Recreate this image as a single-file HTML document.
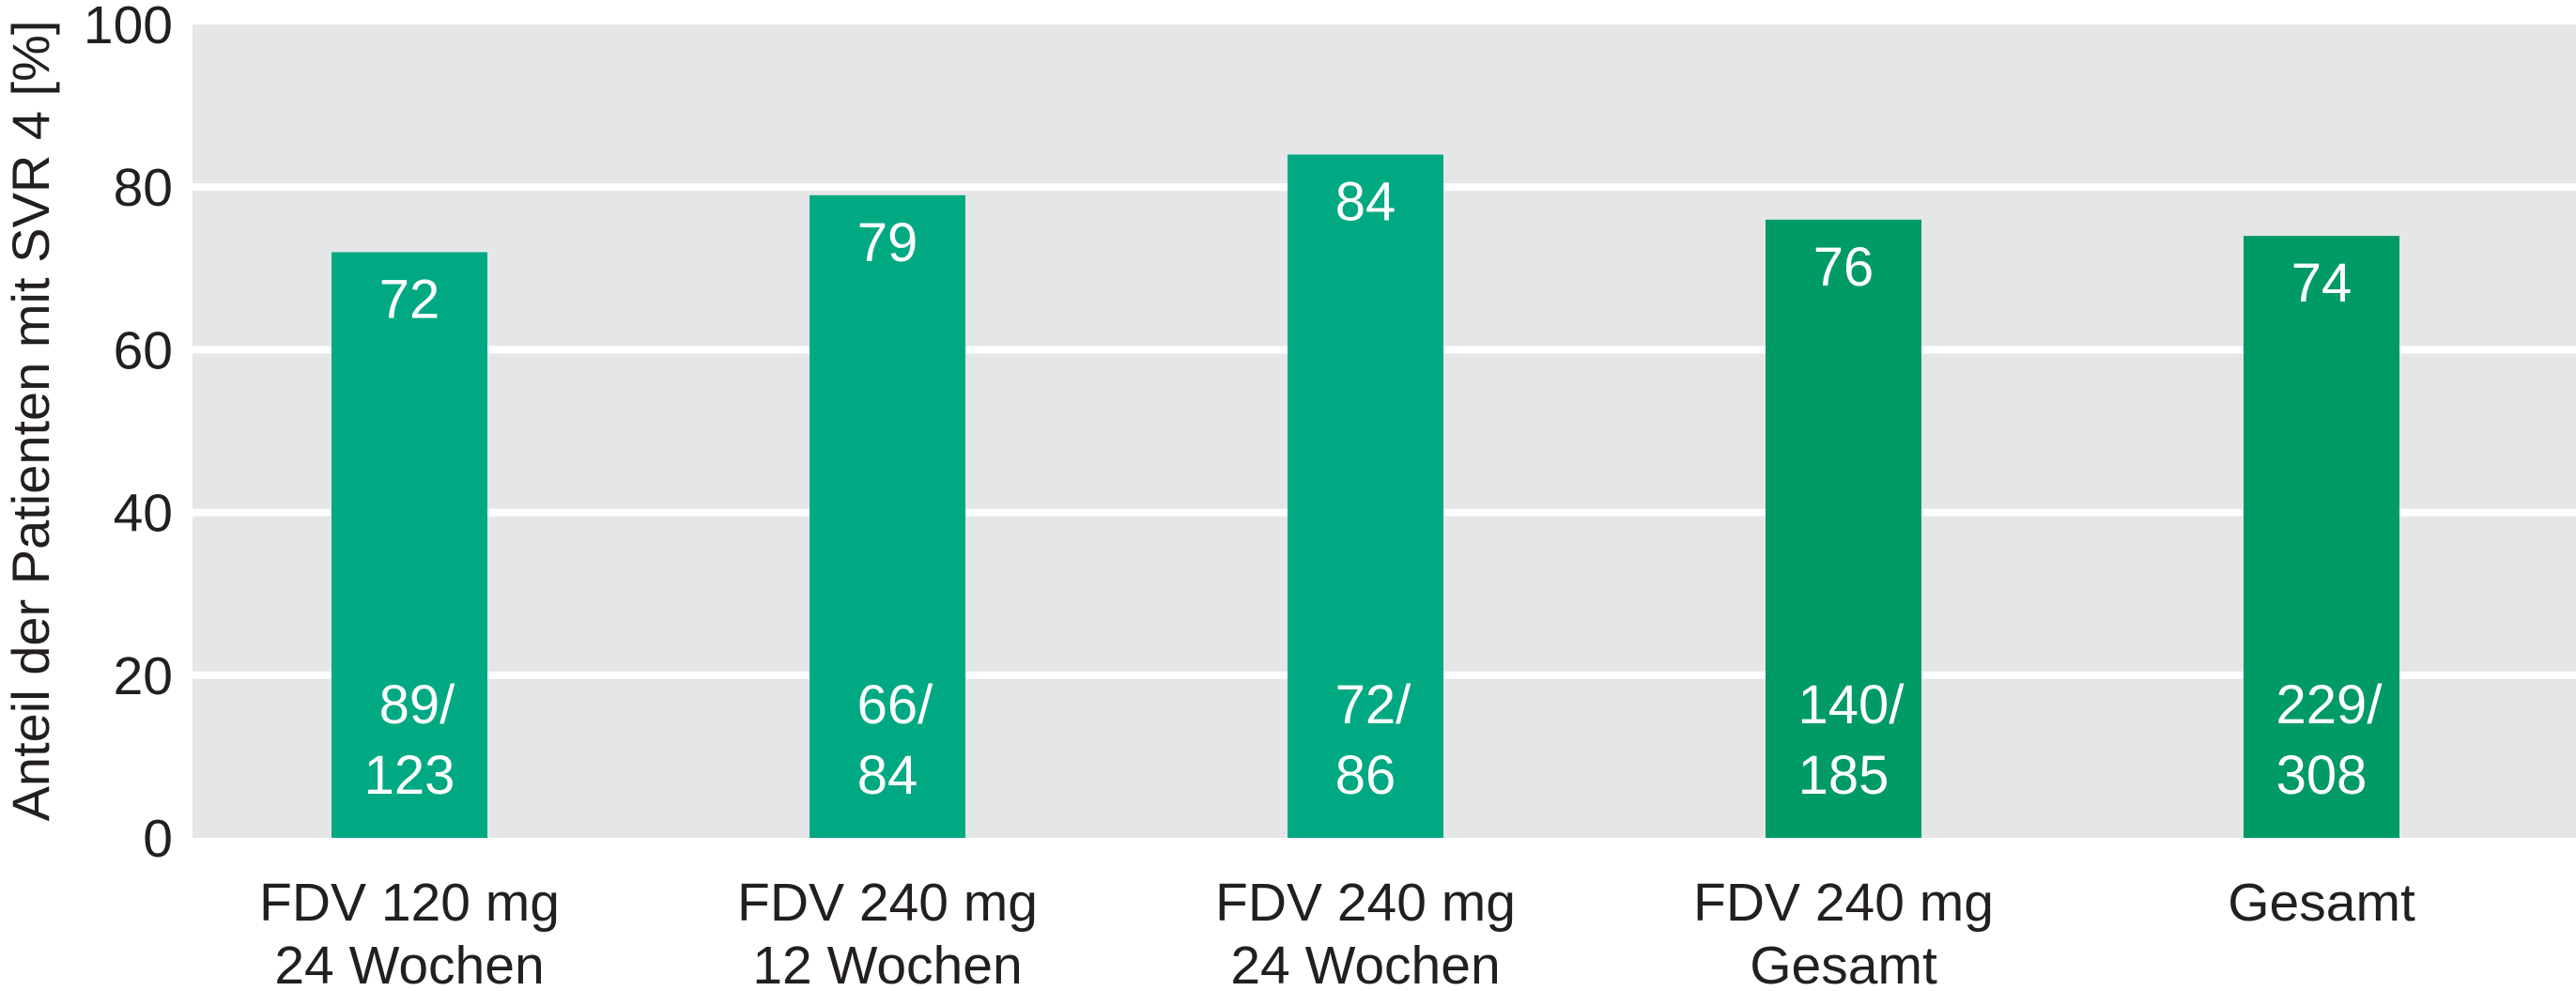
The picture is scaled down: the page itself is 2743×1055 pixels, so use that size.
<!DOCTYPE html>
<html><head><meta charset="utf-8"><style>
html,body{margin:0;padding:0;background:#fff;}
svg{display:block;font-family:"Liberation Sans",sans-serif;}
</style></head><body>
<svg id="chart" width="2743" height="1055" viewBox="0 0 2743 1055"></svg>
<script>
const categories1 = ["FDV 120 mg","FDV 240 mg","FDV 240 mg","FDV 240 mg","Gesamt"];
const categories2 = ["24 Wochen","12 Wochen","24 Wochen","Gesamt",""];
const values = [72,79,84,76,74];
const numerators = ["89/","66/","72/","140/","229/"];
const denominators = ["123","84","86","185","308"];
const barColors = ["#00a982","#00a982","#00a982","#009a68","#009a68"];
const yTicks = [0,20,40,60,80,100];

const NS="http://www.w3.org/2000/svg";
const svg=document.getElementById('chart');
const L=205,R=2743,T=26,B=892,step=509,x0=436,bw=166;
const y=v=>B-(B-T)*v/100;
const xc=i=>x0+i*step;
function mk(tag,attrs,txt){const e=document.createElementNS(NS,tag);for(const k in attrs)e.setAttribute(k,attrs[k]);if(txt!==undefined)e.textContent=txt;svg.appendChild(e);return e;}

const bg=mk('rect',{x:L,y:T,width:R-L,height:B-T,fill:'#e5e6e8'});



yTicks.forEach(t=>{
  if(t>0&&t<100){
    const g=mk('rect',{x:L,y:y(t)-4,width:R-L,height:8,fill:'#ffffff'});
    
    
  }
  const tl=mk('text',{x:184,y:y(t)+20,'text-anchor':'end','font-size':57,fill:'#231f20'},String(t));
  
  
});

const yt=mk('text',{x:0,y:0,transform:'translate(52,448) rotate(-90)','text-anchor':'middle','font-size':56,fill:'#231f20'},'Anteil der Patienten mit SVR 4 [%]');



values.forEach((v,i)=>{
  const b=mk('rect',{x:xc(i)-bw/2,y:y(v),width:bw,height:B-y(v),fill:barColors[i]});
  
  
  const vl=mk('text',{x:xc(i),y:y(v)+70,'text-anchor':'middle','font-size':58,fill:'#ffffff'},String(v));
  
  
  const n=mk('text',{x:xc(i)+8,y:770,'text-anchor':'middle','font-size':58,fill:'#ffffff'},numerators[i]);
  
  
  const d=mk('text',{x:xc(i),y:845,'text-anchor':'middle','font-size':58,fill:'#ffffff'},denominators[i]);
  
  
  const c1=mk('text',{x:xc(i),y:980,'text-anchor':'middle','font-size':57,fill:'#231f20'},categories1[i]);
  
  
  if(categories2[i]){
    const c2=mk('text',{x:xc(i),y:1047,'text-anchor':'middle','font-size':57,fill:'#231f20'},categories2[i]);
    
    
  }
});
</script>
</body></html>
